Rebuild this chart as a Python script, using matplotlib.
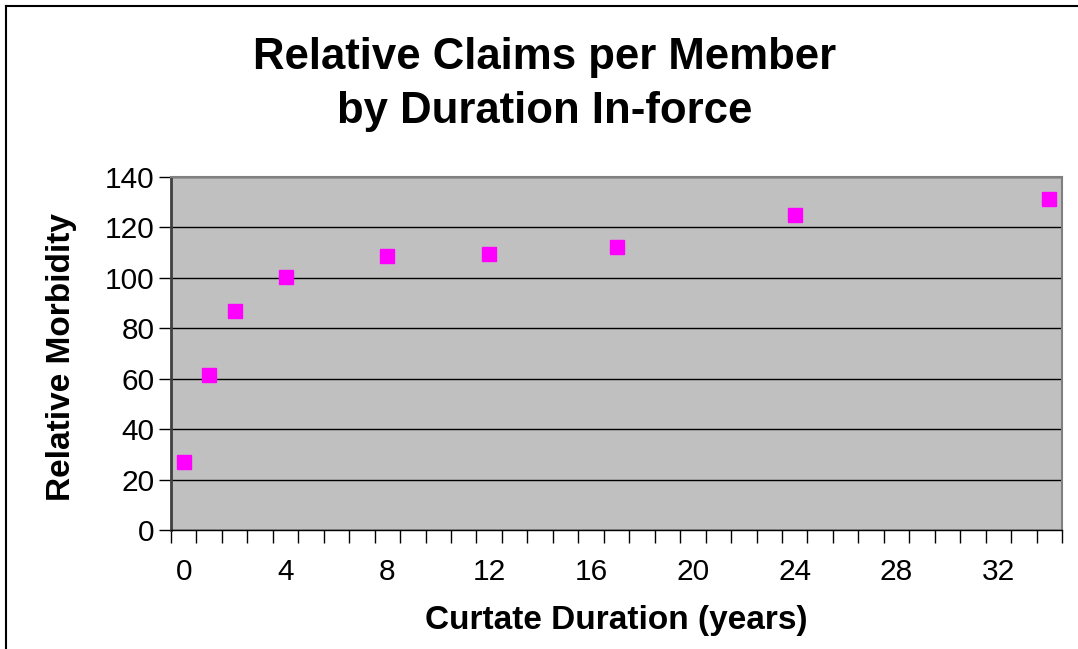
import matplotlib
matplotlib.use('Agg')
import matplotlib.pyplot as plt
from matplotlib.lines import Line2D
import numpy as np

# data
duration = [0, 1, 2, 4, 8, 12, 17, 24, 34]
morbidity = [27, 61.5, 87, 100.5, 108.5, 109.5, 112.3, 125, 131.3]
xtick_labels = [0, 4, 8, 12, 16, 20, 24, 28, 32]
ytick_labels = [0, 20, 40, 60, 80, 100, 120, 140]

plt.rcParams['font.family'] = ['Liberation Sans', 'DejaVu Sans']

fig = plt.figure(figsize=(10.78, 6.49), dpi=100)
ax = fig.add_axes([171/1078, 1-530/649, (1062-171)/1078, (530-177)/649])
ax.set_facecolor('#C0C0C0')

ax.plot(duration, morbidity, linestyle='none', marker='s', markersize=10,
        color='#FF00FF', markeredgecolor='#FF00FF', zorder=3)

ax.set_xlim(-0.5, 34.5)
ax.set_ylim(0, 140)

# category style axis: labels at every 4th, ticks between categories
ax.set_xticks(xtick_labels)
ax.set_xticklabels([str(v) for v in xtick_labels])
ax.tick_params(axis='x', which='major', length=0, pad=20, labelsize=21.5)
ax.set_xticks(np.arange(-0.5, 35, 1), minor=True)
ax.tick_params(axis='x', which='minor', length=9, width=1, direction='out', color='black')

ax.set_yticks(ytick_labels)
ax.tick_params(axis='y', length=9, width=1, direction='out', labelsize=21.5, pad=3)

ax.grid(axis='y', color='black', linewidth=1)
ax.set_axisbelow(True)

ax.spines['left'].set_color('#404040')
ax.spines['left'].set_linewidth(2)
ax.spines['bottom'].set_color('black')
ax.spines['bottom'].set_linewidth(1)
ax.spines['top'].set_color('#808080')
ax.spines['right'].set_color('#808080')
ax.spines['top'].set_linewidth(1.5)
ax.spines['right'].set_linewidth(1.5)

fig.text(545/1078, 1-57/649, 'Relative Claims per Member', ha='center', va='center',
         fontsize=31.5, fontweight='bold')
fig.text(545/1078, 1-112/649, 'by Duration In-force', ha='center', va='center',
         fontsize=31.5, fontweight='bold')
fig.text(616/1078, 1-620/649, 'Curtate Duration (years)', ha='center', va='center',
         fontsize=24, fontweight='bold')
fig.text(62/1078, 1-357/649, 'Relative Morbidity', ha='center', va='center',
         fontsize=24, fontweight='bold', rotation=90)

# chart frame (left and top edges visible)
fig.add_artist(Line2D([6/1078, 6/1078], [0, 1-6/649], color='black', linewidth=1.5))
fig.add_artist(Line2D([6/1078, 1], [1-6/649, 1-6/649], color='black', linewidth=1.5))

fig.savefig('out.png', dpi=100)
